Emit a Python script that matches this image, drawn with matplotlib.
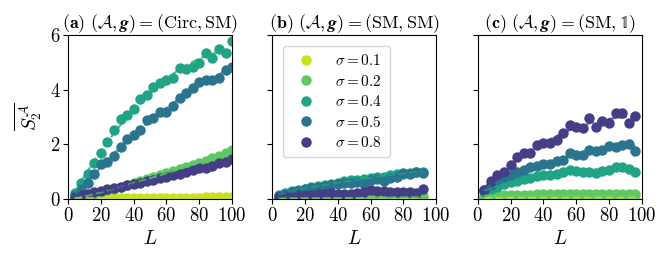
import numpy as np
import matplotlib
matplotlib.use("Agg")
import matplotlib.pyplot as plt

plt.rcParams['font.family'] = 'serif'
plt.rcParams['font.serif'] = ['cmr10', 'DejaVu Serif']
plt.rcParams['mathtext.fontset'] = 'cm'
plt.rcParams['axes.formatter.use_mathtext'] = True
plt.rcParams['axes.unicode_minus'] = False

sigmas = [0.1, 0.2, 0.4, 0.5, 0.8]
colors = ['#c8e020', '#5ec962', '#21a386', '#2a748e', '#433e85']

# panel (a): (Circ, SM)
L_a = np.arange(4, 101, 4)
S_a = {
    0.1: [0.03, 0.04, 0.04, 0.05, 0.05, 0.05, 0.05, 0.05, 0.05, 0.05, 0.05, 0.05, 0.05,
          0.05, 0.05, 0.05, 0.05, 0.05, 0.05, 0.05, 0.06, 0.06, 0.06, 0.06, 0.06],
    0.2: [0.02, 0.06, 0.12, 0.18, 0.25, 0.32, 0.38, 0.45, 0.52, 0.58, 0.65, 0.72, 0.8,
          0.87, 0.95, 1.02, 1.1, 1.17, 1.25, 1.32, 1.4, 1.5, 1.58, 1.67, 1.8],
    0.4: [0.22, 0.59, 0.93, 1.3, 1.69, 2.09, 2.52, 2.92, 3.07, 3.3, 3.65, 3.8, 4.08,
          4.23, 4.35, 4.41, 4.78, 4.75, 4.84, 4.96, 5.33, 5.15, 5.48, 5.33, 5.76],
    0.5: [0.13, 0.38, 0.59, 0.93, 1.27, 1.36, 1.56, 1.9, 2.18, 2.33, 2.54, 2.88, 2.95,
          3.17, 3.19, 3.4, 3.68, 3.86, 4.05, 4.29, 4.35, 4.35, 4.41, 4.72, 4.84],
    0.8: [0.08, 0.15, 0.2, 0.25, 0.3, 0.35, 0.4, 0.45, 0.5, 0.55, 0.6, 0.66, 0.7,
          0.76, 0.8, 0.87, 0.93, 1.0, 1.05, 1.12, 1.15, 1.2, 1.3, 1.35, 1.45],
}

# panel (b): (SM, SM)
L_b = np.arange(4, 93, 4)
S_b = {
    0.1: [0.01] * 23,
    0.2: [0.02, 0.02, 0.03, 0.03, 0.03, 0.03, 0.03, 0.04, 0.04, 0.04, 0.04, 0.04,
          0.04, 0.04, 0.04, 0.05, 0.05, 0.05, 0.05, 0.05, 0.05, 0.05, 0.1],
    0.4: [0.15, 0.22, 0.28, 0.33, 0.38, 0.43, 0.48, 0.5, 0.55, 0.6, 0.65, 0.68, 0.7,
          0.74, 0.77, 0.8, 0.82, 0.86, 0.9, 0.93, 0.96, 0.98, 1.0],
    0.5: [0.12, 0.2, 0.26, 0.3, 0.35, 0.4, 0.45, 0.48, 0.52, 0.55, 0.58, 0.6, 0.62,
          0.55, 0.7, 0.72, 0.65, 0.78, 0.8, 0.95, 0.92, 1.0, 0.95],
    0.8: [0.08, 0.1, 0.12, 0.14, 0.15, 0.16, 0.17, 0.2, 0.22, 0.2, 0.18, 0.2, 0.22,
          0.25, 0.32, 0.3, 0.28, 0.27, 0.25, 0.24, 0.25, 0.22, 0.38],
}

# panel (c): (SM, 1)
L_c = np.arange(4, 97, 4)
S_c = {
    0.1: [0.04, 0.04, 0.05, 0.05, 0.05, 0.05, 0.05, 0.05, 0.05, 0.05, 0.05, 0.05,
          0.05, 0.05, 0.05, 0.05, 0.05, 0.05, 0.05, 0.05, 0.05, 0.05, 0.05, 0.05],
    0.2: [0.12, 0.13, 0.14, 0.15, 0.15, 0.16, 0.16, 0.16, 0.17, 0.17, 0.17, 0.18,
          0.18, 0.2, 0.18, 0.18, 0.18, 0.17, 0.18, 0.18, 0.18, 0.18, 0.2, 0.18],
    0.4: [0.27, 0.35, 0.45, 0.55, 0.63, 0.67, 0.72, 0.76, 0.84, 0.88, 0.88, 0.91,
          1.0, 1.06, 1.04, 1.0, 1.0, 0.96, 1.04, 1.06, 1.16, 1.16, 1.09, 1.0],
    0.5: [0.33, 0.51, 0.7, 0.79, 0.88, 1.0, 1.06, 1.16, 1.21, 1.28, 1.28, 1.4,
          1.43, 1.67, 1.61, 1.61, 1.79, 1.77, 1.79, 1.94, 1.89, 1.98, 2.01, 1.77],
    0.8: [0.33, 0.67, 0.88, 1.0, 1.24, 1.55, 1.67, 1.67, 1.98, 2.04, 2.04, 2.16,
          2.4, 2.71, 2.65, 2.59, 2.95, 2.62, 2.87, 2.79, 3.16, 3.16, 2.79, 3.04],
}

titles = [r'$\mathbf{(a)}\ (\mathcal{A},\boldsymbol{g})=(\mathrm{Circ},\mathrm{SM})$',
          r'$\mathbf{(b)}\ (\mathcal{A},\boldsymbol{g})=(\mathrm{SM},\mathrm{SM})$',
          r'$\mathbf{(c)}\ (\mathcal{A},\boldsymbol{g})=(\mathrm{SM},\mathbb{1})$']

fig = plt.figure(figsize=(6.7, 2.63), dpi=100)
lefts = [0.1015, 0.406, 0.713]
axes = [fig.add_axes([l, 0.2433, 0.245, 0.624]) for l in lefts]

for ax, L, S, title in zip(axes, [L_a, L_b, L_c], [S_a, S_b, S_c], titles):
    for s, c in zip(sigmas, colors):
        y = np.array(S[s])
        ax.plot(L, y, 'o', color=c, ms=7.5, mec='none', label=rf'$\sigma=${s}', zorder=2)
        fit = np.polyfit(L, y, 2)
        ax.plot(L, np.polyval(fit, L), '--', color=c, lw=1.5, alpha=0.8, zorder=3)
    ax.set_xlim(0, 100)
    ax.set_ylim(0, 6)
    ax.set_xticks([0, 20, 40, 60, 80, 100])
    ax.set_yticks([0, 2, 4, 6])
    ax.set_xlabel(r'$L$', fontsize=14)
    ax.set_title(title, fontsize=13, pad=4)
    ax.tick_params(labelsize=13.5, direction='out', length=3.5, pad=2)

axes[0].set_ylabel(r'$\overline{S_2^{\mathcal{A}}}$', fontsize=14)
for ax in axes[1:]:
    ax.tick_params(labelleft=False)

axes[1].legend(loc='upper left', fontsize=11, frameon=True, handletextpad=0.9,
               borderpad=0.5, labelspacing=0.35, bbox_to_anchor=(0.02, 0.98))

fig.savefig('out.png', dpi=100)
